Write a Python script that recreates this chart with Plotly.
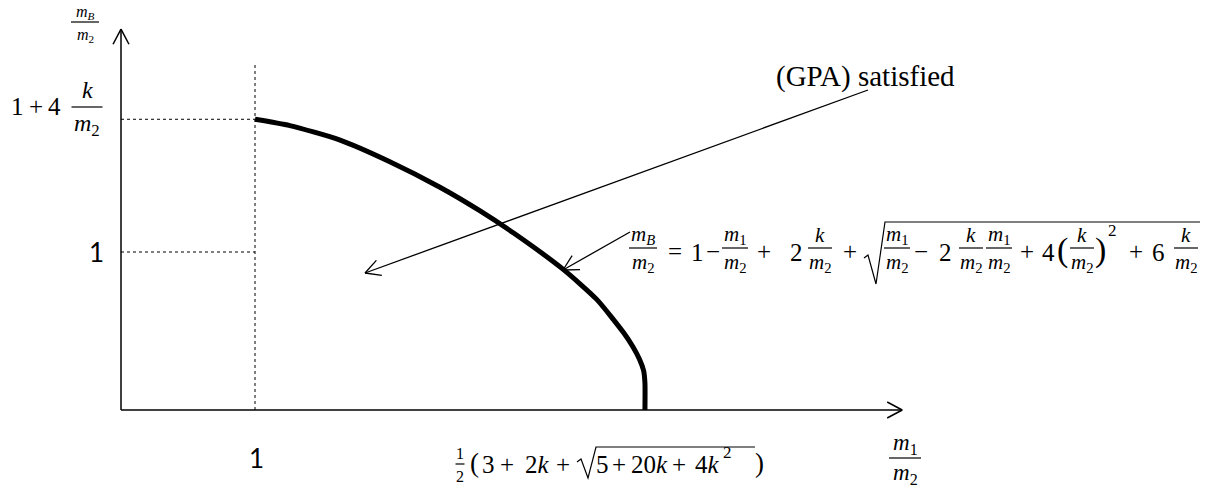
import math
import plotly.graph_objects as go

W, H = 1228, 491

# Boundary of the (GPA) region in (m1/m2, mB/m2) units (schematic)
curve_x = [1.00, 1.26, 1.63, 2.01, 2.38, 2.68, 2.93, 3.30, 3.55, 3.75, 3.82, 3.87, 3.90, 3.91, 3.91]
curve_y = [1.84, 1.80, 1.71, 1.57, 1.41, 1.26, 1.12, 0.89, 0.70, 0.49, 0.40, 0.32, 0.25, 0.17, 0.00]

x_one = 1.0                 # m1/m2 = 1
y_one = 1.0                 # mB/m2 = 1
y_top = curve_y[0]          # mB/m2 = 1 + 4k/m2
x_end = curve_x[-1]         # m1/m2 = (3 + 2k + sqrt(5 + 20k + 4k^2)) / 2
x_axis_len = 5.83
y_axis_len = 2.41

# screen scale of the drawing (pixels per unit, origin position)
X0_PX, SX = 121, 134
Y0_PX, SY = 410, 158

MATH = "Liberation Serif, Times New Roman, Times, serif"
SANS = "Lato, Carlito, Liberation Sans, sans-serif"


def to_px(x, y):
    return X0_PX + x * SX, Y0_PX - y * SY


def to_data(px, py):
    return (px - X0_PX) / SX, (Y0_PX - py) / SY


shapes = []
annotations = []
traces = []


def seg(x0, y0, x1, y1, width=1.5, dash=None):
    line = dict(color="black", width=width)
    if dash:
        line["dash"] = dash
    shapes.append(dict(type="line", xref="x", yref="y", x0=x0, y0=y0, x1=x1, y1=y1, line=line))


def open_head(tip, tail, length=17, half_angle=28, width=1.5):
    # open "V" arrowhead, built in screen space so it keeps its shape
    tx, ty = to_px(*tip)
    bx, by = to_px(*tail)
    ang = math.atan2(by - ty, bx - tx)
    for s in (-1, 1):
        a = ang + s * math.radians(half_angle)
        hx, hy = tx + length * math.cos(a), ty + length * math.sin(a)
        seg(tip[0], tip[1], *to_data(hx, hy), width=width)


def arrow(tail, tip, width=1.5):
    seg(tail[0], tail[1], tip[0], tip[1], width=width)
    open_head(tip, tail, width=width)


def px_line(x0, y0, x1, y1, width=1):
    shapes.append(dict(type="line", xref="paper", yref="paper",
                       x0=x0 / W, y0=1 - y0 / H, x1=x1 / W, y1=1 - y1 / H,
                       line=dict(color="black", width=width)))


def px_path(points, width=1.2):
    d = "M " + " L ".join(f"{x / W:.5f},{1 - y / H:.5f}" for x, y in points)
    shapes.append(dict(type="path", xref="paper", yref="paper", path=d,
                       line=dict(color="black", width=width)))


def label(px, py, txt, size, family=MATH, anchor="center"):
    annotations.append(dict(x=px / W, y=1 - py / H, xref="paper", yref="paper",
                            text=txt, showarrow=False, xanchor=anchor, yanchor="middle",
                            borderpad=0,
                            font=dict(size=size, family=family, color="black")))


def frac(pxc, pybar, num, den, size, width, gap, gap_den=None):
    label(pxc, pybar - gap, num, size)
    label(pxc, pybar + (gap_den if gap_den is not None else gap + 1), den, size)
    px_line(pxc - width / 2, pybar, pxc + width / 2, pybar, width=1.2)


mB = "<i>m</i><sub><i>B</i></sub>"
m1 = "<i>m</i><sub>1</sub>"
m2 = "<i>m</i><sub>2</sub>"
kk = "<i>k</i>"

# axes with open arrowheads
arrow((0, 0), (x_axis_len, 0), width=1.5)
arrow((0, 0), (0, y_axis_len), width=1.5)

# dashed guide lines
seg(x_one, 0, x_one, 2.20, width=1, dash="dot")
seg(0, y_top, x_one, y_top, width=1, dash="dot")
seg(0, y_one, x_one, y_one, width=1, dash="dot")

# boundary curve
traces.append(go.Scatter(x=curve_x, y=curve_y, mode="lines",
                         line=dict(color="black", width=5, shape="spline", smoothing=0.6),
                         hoverinfo="skip", showlegend=False))

# pointer arrows
arrow(to_data(868, 90), to_data(365, 273), width=1.3)
arrow(to_data(630, 232), to_data(563, 270), width=1.3)

# axis titles
frac(85, 22, mB, m2, 16, 28, 9, 13)
frac(905, 458, m1, m2, 23, 32, 14, 16)

# y-axis labels
label(17, 106, "1", 25)
label(36, 106, "+", 25)
label(54, 106, "4", 25)
frac(87, 107, kk, m2, 24, 31, 17)
label(97, 252, "1", 26, family=SANS)

# x-axis labels
label(256, 458, "1", 26, family=SANS)
frac(460, 464, "1", "2", 16, 9, 11)
label(474, 463, "(", 27)
label(488, 464, "3", 25)
label(507, 464, "+", 25)
label(537, 464, "2" + kk, 25)
label(563, 464, "+", 25)
px_path([(577, 462), (581, 459), (588, 478), (596, 447), (755, 447)])
label(602, 464, "5", 25)
label(619, 464, "+", 25)
label(649, 464, "20" + kk, 25)
label(679, 464, "+", 25)
label(707, 464, "4" + kk, 25)
label(727, 452, "2", 17)
label(759, 463, ")", 27)

# annotation text
label(775, 76, "(GPA) satisfied", 29, anchor="left")

# boundary formula
yb = 248
fs = 21
frac(643, yb, mB, m2, fs, 28, 13, 15)
label(675, 251, "=", 25)
label(697, 252, "1", 25)
label(713, 251, "−", 25)
frac(735, yb, m1, m2, fs, 26, 13, 15)
label(764, 251, "+", 25)
label(796, 252, "2", 25)
frac(820, yb, kk, m2, fs, 24, 13, 15)
label(850, 251, "+", 25)
px_path([(864, 258), (868, 255), (876, 284), (885, 222), (1200, 222)])
frac(897, yb, m1, m2, fs, 26, 13, 15)
label(921, 251, "−", 25)
label(945, 252, "2", 25)
frac(971, yb, kk, m2, fs, 24, 13, 15)
frac(999, yb, m1, m2, fs, 26, 13, 15)
label(1027, 251, "+", 25)
label(1048, 252, "4", 25)
label(1062, 250, "(", 34)
frac(1082, yb, kk, m2, fs, 24, 13, 15)
label(1100, 250, ")", 34)
label(1112, 230, "2", 17)
label(1136, 251, "+", 25)
label(1158, 252, "6", 25)
frac(1186, yb, kk, m2, fs, 24, 13, 15)

x0, _ = to_data(0, 0)
x1, _ = to_data(W, 0)
_, y0 = to_data(0, H)
_, y1 = to_data(0, 0)

fig = go.Figure(traces)
fig.update_layout(
    width=W, height=H, autosize=False,
    margin=dict(l=0, r=0, t=0, b=0),
    font=dict(family=MATH, color="black"),
    paper_bgcolor="white", plot_bgcolor="white",
    xaxis=dict(range=[x0, x1], visible=False, fixedrange=True),
    yaxis=dict(range=[y0, y1], visible=False, fixedrange=True),
    shapes=shapes, annotations=annotations,
    showlegend=False,
)
fig.write_html("out.html", config=dict(displayModeBar=False))
